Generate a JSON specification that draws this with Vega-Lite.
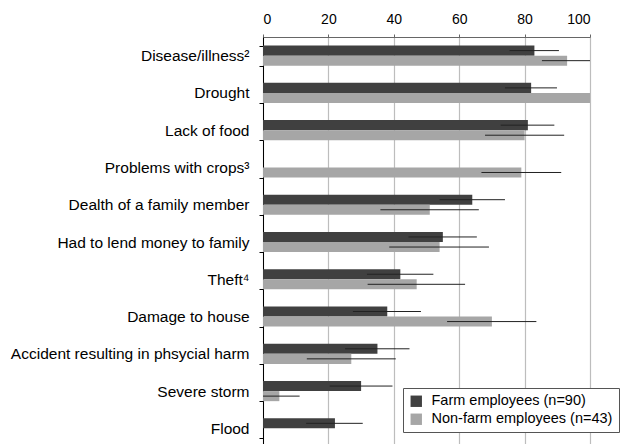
{
  "$schema": "https://vega.github.io/schema/vega-lite/v6.json",
  "width": 327,
  "height": 410,
  "autosize": "none",
  "padding": {"left": 263, "top": 37, "right": 35, "bottom": 0},
  "background": "white",
  "config": {
    "font": "Liberation Sans",
    "view": {"stroke": null}
  },
  "data": {
    "values": [
      {"cat": "Disease/illness²", "group": "Farm employees (n=90)", "value": 83, "lo": 75.4, "hi": 90.5},
      {"cat": "Disease/illness²", "group": "Non-farm employees (n=43)", "value": 93, "lo": 85.3, "hi": 100},
      {"cat": "Drought", "group": "Farm employees (n=90)", "value": 82, "lo": 74, "hi": 89.9},
      {"cat": "Drought", "group": "Non-farm employees (n=43)", "value": 100, "lo": null, "hi": null},
      {"cat": "Lack of food", "group": "Farm employees (n=90)", "value": 81, "lo": 72.7, "hi": 89.1},
      {"cat": "Lack of food", "group": "Non-farm employees (n=43)", "value": 80, "lo": 67.9, "hi": 92.1},
      {"cat": "Problems with crops³", "group": "Non-farm employees (n=43)", "value": 79, "lo": 66.8, "hi": 91.2},
      {"cat": "Dealth of a family member", "group": "Farm employees (n=90)", "value": 64, "lo": 54, "hi": 74},
      {"cat": "Dealth of a family member", "group": "Non-farm employees (n=43)", "value": 51, "lo": 35.9, "hi": 66},
      {"cat": "Had to lend money to family", "group": "Farm employees (n=90)", "value": 55, "lo": 44.5, "hi": 65.4},
      {"cat": "Had to lend money to family", "group": "Non-farm employees (n=43)", "value": 54, "lo": 38.6, "hi": 69.1},
      {"cat": "Theft⁴", "group": "Farm employees (n=90)", "value": 42, "lo": 31.8, "hi": 52.1},
      {"cat": "Theft⁴", "group": "Non-farm employees (n=43)", "value": 47, "lo": 32, "hi": 61.8},
      {"cat": "Damage to house", "group": "Farm employees (n=90)", "value": 38, "lo": 27.5, "hi": 48.3},
      {"cat": "Damage to house", "group": "Non-farm employees (n=43)", "value": 70, "lo": 56.3, "hi": 83.6},
      {"cat": "Accident resulting in phsycial harm", "group": "Farm employees (n=90)", "value": 35, "lo": 25.1, "hi": 44.8},
      {"cat": "Accident resulting in phsycial harm", "group": "Non-farm employees (n=43)", "value": 27, "lo": 13.4, "hi": 40.6},
      {"cat": "Severe storm", "group": "Farm employees (n=90)", "value": 30, "lo": 20.4, "hi": 39.6},
      {"cat": "Severe storm", "group": "Non-farm employees (n=43)", "value": 5, "lo": 0, "hi": 11.2},
      {"cat": "Flood", "group": "Farm employees (n=90)", "value": 22, "lo": 13.2, "hi": 30.5}
    ]
  },
  "encoding": {
    "y": {
      "field": "cat",
      "type": "nominal",
      "sort": ["Disease/illness²", "Drought", "Lack of food", "Problems with crops³", "Dealth of a family member", "Had to lend money to family", "Theft⁴", "Damage to house", "Accident resulting in phsycial harm", "Severe storm", "Flood"],
      "scale": {"paddingInner": 0.46, "paddingOuter": 0.23},
      "axis": {
        "title": null,
        "domainColor": "#000",
        "tickColor": "#000",
        "tickBand": "extent",
        "tickSize": 4,
        "labelFontSize": 15.5,
        "labelColor": "#000",
        "labelPadding": 10,
        "labelLimit": 300
      }
    },
    "yOffset": {
      "field": "group",
      "type": "nominal",
      "sort": ["Farm employees (n=90)", "Non-farm employees (n=43)"],
      "scale": {"paddingInner": 0, "paddingOuter": 0}
    }
  },
  "layer": [
    {
      "mark": {"type": "bar"},
      "encoding": {
        "x": {
          "field": "value",
          "type": "quantitative",
          "scale": {"domain": [0, 100], "nice": false},
          "axis": {
            "orient": "top",
            "title": null,
            "values": [0, 20, 40, 60, 80, 100],
            "domain": true,
            "domainColor": "#666",
            "ticks": true,
            "tickSize": 3,
            "tickColor": "#666",
            "labelPadding": 8,
            "labelFontSize": 14,
            "labelColor": "#000",
            "gridColor": "#bdbdbd",
            "gridWidth": 1.2
          }
        },
        "color": {
          "field": "group",
          "type": "nominal",
          "scale": {"domain": ["Farm employees (n=90)", "Non-farm employees (n=43)"], "range": ["#404040", "#a6a6a6"]},
          "legend": {
            "title": null,
            "orient": "none",
            "legendX": 140,
            "legendY": 351,
            "symbolType": "square",
            "symbolSize": 130,
            "symbolStrokeWidth": 0,
            "labelFontSize": 14.5,
            "labelColor": "#000",
            "labelLimit": 300,
            "rowPadding": 3,
            "padding": 6,
            "strokeColor": "#555",
            "fillColor": "white",
            "labelOffset": 8
          }
        }
      }
    },
    {
      "mark": {"type": "rule", "color": "#222", "strokeWidth": 1},
      "encoding": {
        "x": {"field": "lo", "type": "quantitative"},
        "x2": {"field": "hi"}
      }
    }
  ]
}
